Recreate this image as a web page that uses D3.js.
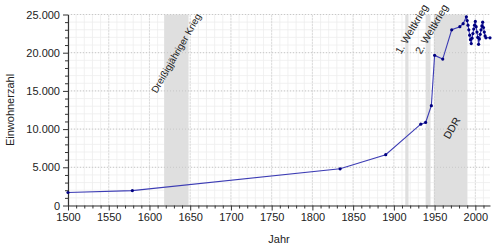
<!DOCTYPE html>
<html lang="de">
<head>
  <meta charset="utf-8">
  <title>Einwohnerentwicklung</title>
  <script src="https://d3js.org/d3.v7.min.js"></script>
  <style>
    body { margin: 0; background: #fff; }
    text { font-family: "Liberation Sans", Arial, sans-serif; }
  </style>
</head>
<body>
<div id="chart"></div>
<script>
  // data
  var years = [1500, 1579, 1834, 1890, 1933, 1939, 1946, 1950, 1960, 1971, 1981, 1985, 1989,
    1990, 1991, 1992, 1993, 1994, 1995, 1996, 1997, 1998, 1999, 2000, 2001, 2002, 2003, 2004,
    2005, 2006, 2007, 2008, 2009, 2010, 2011, 2012, 2013, 2018];
  var population = [1700, 1950, 4800, 6650, 10650, 10870, 13060, 19650, 19170, 23000, 23400, 23800, 24700,
    24200, 23600, 23000, 22300, 21700, 21200, 21900, 22500, 23100, 23600, 24100, 23400, 22700, 22000, 21100,
    21800, 22400, 23000, 23500, 24000, 23300, 22700, 22200, 21950, 21950];
  var periods = [
    { name: "Dreißigjähriger Krieg", from: 1618, to: 1648 },
    { name: "1. Weltkrieg", from: 1914, to: 1918 },
    { name: "2. Weltkrieg", from: 1939, to: 1945 },
    { name: "DDR", from: 1949, to: 1990 }
  ];
  var yTicks = [0, 5000, 10000, 15000, 20000, 25000];

  var width = 500;
  var height = 250;
  var margin = { top: 14.5, right: 10, bottom: 44.5, left: 68 };

  var svg = d3.select("#chart")
    .append("svg")
    .attr("width", width)
    .attr("height", height);

  var x = d3.scaleLinear().domain([1500, 2018]).range([margin.left, width - margin.right]);
  var y = d3.scaleLinear().domain([0, 25000]).range([height - margin.bottom, margin.top]);

  var fmt = function(v) { return d3.format(",")(v).replace(/,/g, "."); };

  // minor grid
  var g = svg.append("g");
  g.selectAll(".vminor")
    .data(d3.range(1500, 2019, 10))
    .enter().append("line")
    .attr("x1", function(d) { return x(d); })
    .attr("x2", function(d) { return x(d); })
    .attr("y1", y(0)).attr("y2", y(25000))
    .attr("stroke", "#eeeeee").attr("stroke-width", 0.8);
  g.selectAll(".hminor")
    .data(d3.range(0, 25001, 1000))
    .enter().append("line")
    .attr("x1", x(1500)).attr("x2", x(2018))
    .attr("y1", function(d) { return y(d); })
    .attr("y2", function(d) { return y(d); })
    .attr("stroke", "#eeeeee").attr("stroke-width", 0.8);

  // shaded periods
  svg.selectAll(".period")
    .data(periods)
    .enter().append("rect")
    .attr("x", function(d) { return x(d.from); })
    .attr("width", function(d) { return x(d.to) - x(d.from); })
    .attr("y", y(25000))
    .attr("height", y(0) - y(25000))
    .attr("fill", "#dfdfdf");

  // major grid (dotted)
  g = svg.append("g");
  g.selectAll(".vmajor")
    .data(d3.range(1550, 2019, 50))
    .enter().append("line")
    .attr("x1", function(d) { return x(d); })
    .attr("x2", function(d) { return x(d); })
    .attr("y1", y(0)).attr("y2", y(25000))
    .attr("stroke", "#c8c8c8").attr("stroke-dasharray", "1,2");
  g.selectAll(".hmajor")
    .data(yTicks.slice(1))
    .enter().append("line")
    .attr("x1", x(1500)).attr("x2", x(2018))
    .attr("y1", function(d) { return y(d); })
    .attr("y2", function(d) { return y(d); })
    .attr("stroke", "#c8c8c8").attr("stroke-dasharray", "1,2");

  // period labels
  var labelPos = [
    { dx: 13, y: 16, anchor: "end", size: 9.8 },
    { dx: 20, y: 7, anchor: "end", size: 10.5 },
    { dx: 18, y: 7, anchor: "end", size: 10.5 },
    { dx: 18, y: 128, anchor: "middle", size: 10.5 }
  ];
  svg.selectAll(".plabel")
    .data(periods)
    .enter().append("text")
    .attr("transform", function(d, i) {
      var p = labelPos[i];
      var px = p.anchor == "middle" ? x(d.from) + p.dx : x(d.to) + p.dx;
      return "translate(" + px + "," + p.y + ") rotate(-60)";
    })
    .attr("text-anchor", function(d, i) { return labelPos[i].anchor; })
    .attr("dy", function(d, i) { return labelPos[i].anchor == "middle" ? "0.35em" : 0; })
    .attr("font-size", function(d, i) { return labelPos[i].size + "px"; })
    .attr("fill", "#222")
    .text(function(d) { return d.name; });

  // axes
  svg.append("g")
    .attr("transform", "translate(0," + y(0) + ")")
    .call(d3.axisBottom(x).tickValues(d3.range(1500, 2019, 50)).tickFormat(d3.format("d")).tickSize(5).tickSizeOuter(0));
  svg.append("g")
    .attr("transform", "translate(0," + y(0) + ")")
    .call(d3.axisBottom(x).tickValues(d3.range(1510, 2019, 10).filter(function(d) { return d % 50; })).tickFormat("").tickSize(3).tickSizeOuter(0))
    .select(".domain").remove();
  svg.append("g")
    .attr("transform", "translate(" + x(1500) + ",0)")
    .call(d3.axisLeft(y).tickValues(yTicks).tickFormat(fmt).tickSize(5).tickSizeOuter(0));
  svg.append("g")
    .attr("transform", "translate(" + x(1500) + ",0)")
    .call(d3.axisLeft(y).tickValues(d3.range(1000, 25000, 1000).filter(function(d) { return d % 5000; })).tickFormat("").tickSize(3).tickSizeOuter(0))
    .select(".domain").remove();

  svg.selectAll(".domain").attr("stroke", "#333").attr("stroke-width", 1.2);
  svg.selectAll(".tick line").attr("stroke", "#333");
  svg.selectAll(".tick text")
    .attr("font-family", "Liberation Sans, Arial, sans-serif")
    .attr("font-size", "11px")
    .attr("fill", "#222");

  // axis titles
  svg.append("text")
    .attr("x", (x(1500) + x(2018)) / 2)
    .attr("y", 243)
    .attr("text-anchor", "middle")
    .attr("font-size", "11px")
    .attr("fill", "#222")
    .text("Jahr");
  svg.append("text")
    .attr("transform", "translate(14," + (y(12500)) + ") rotate(-90)")
    .attr("text-anchor", "middle")
    .attr("font-size", "11px")
    .attr("fill", "#222")
    .text("Einwohnerzahl");

  // line and markers
  var data = years.map(function(d, i) { return { year: d, value: population[i] }; });
  var line = d3.line()
    .x(function(d) { return x(d.year); })
    .y(function(d) { return y(d.value); });
  svg.append("path")
    .datum(data)
    .attr("fill", "none")
    .attr("stroke", "#3c3cb4")
    .attr("stroke-width", 1.1)
    .attr("d", line);
  svg.selectAll(".dot")
    .data(data)
    .enter().append("circle")
    .attr("cx", function(d) { return x(d.year); })
    .attr("cy", function(d) { return y(d.value); })
    .attr("r", 1.6)
    .attr("fill", "#000080");
</script>
</body>
</html>
